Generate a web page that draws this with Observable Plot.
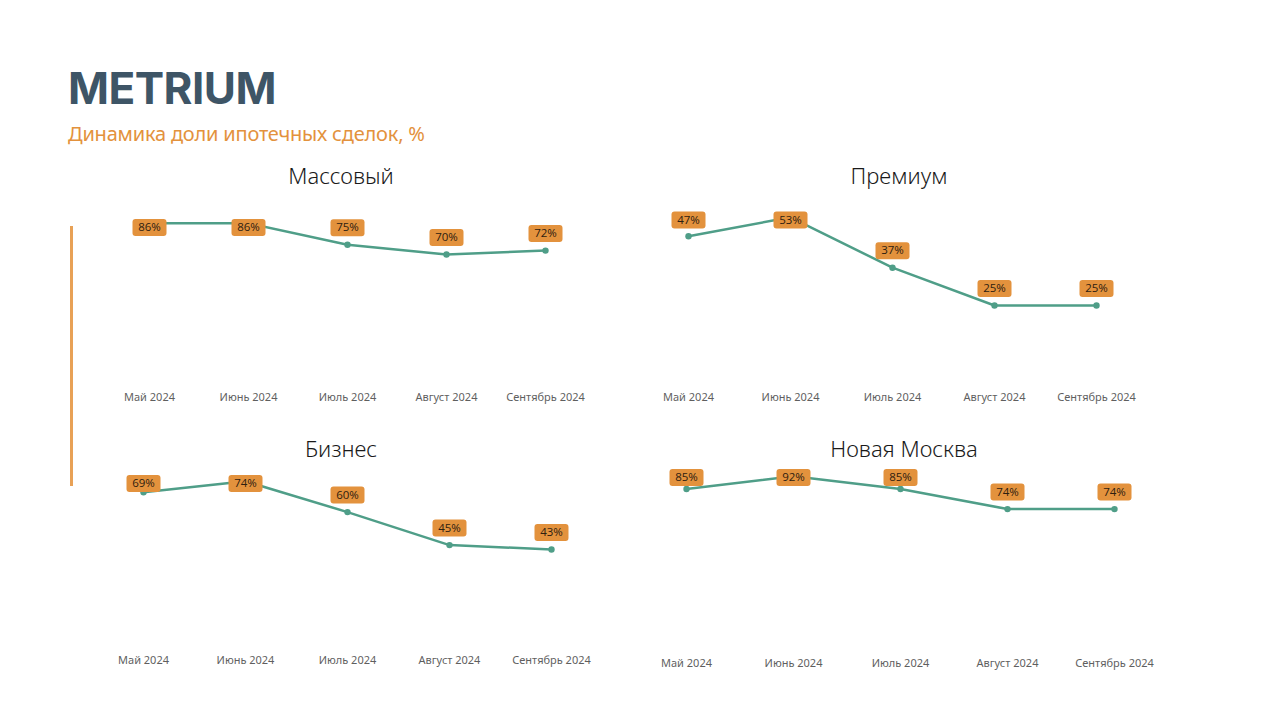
<!DOCTYPE html>
<html>
<head>
<meta charset="utf-8">
<script src="https://cdn.jsdelivr.net/npm/d3@7"></script>
<script src="https://cdn.jsdelivr.net/npm/@observablehq/plot@0.6"></script>
<style>
  html, body { margin: 0; padding: 0; background: #ffffff; }
  #page { position: relative; width: 1269px; height: 712px; overflow: hidden; background: #fff; font-family: "Noto Sans", "Open Sans", sans-serif; }
  .abs { position: absolute; }
  #brand { left: 68px; top: 60px; font-family: Inter, "Noto Sans", sans-serif; font-weight: 700; font-size: 44px; color: #3E5566; letter-spacing: -0.5px; line-height: 56px; }
  #subtitle { left: 68px; top: 120px; font-family: "Noto Sans", sans-serif; font-weight: 400; font-size: 20px; color: #E3923D; line-height: 28px; letter-spacing: -0.2px; }
  #bar { left: 70px; top: 226px; width: 3px; height: 260px; background: #E8A156; }
  .ptitle { font-family: "Noto Sans", "Open Sans", sans-serif; font-weight: 300; font-size: 22px; color: #1a1a1a; transform: translateX(-50%); white-space: nowrap; line-height: 30px; }
</style>
</head>
<body>
<div id="page">
  <div id="brand" class="abs">METRIUM</div>
  <div id="subtitle" class="abs">Динамика доли ипотечных сделок, %</div>
  <div id="bar" class="abs"></div>
</div>
<script>
// ---- data ----
const months = ["Май 2024", "Июнь 2024", "Июль 2024", "Август 2024", "Сентябрь 2024"];
const segments = ["Массовый", "Премиум", "Бизнес", "Новая Москва"];
const massovy = [86, 86, 75, 70, 72];
const premium = [47, 53, 37, 25, 25];
const business = [69, 74, 60, 45, 43];
const newMoscow = [85, 92, 85, 74, 74];
const seriesValues = [massovy, premium, business, newMoscow];

// ---- layout (positions / sizes only) ----
const layout = [
  { left: 98.5, top: 190, width: 495, plotTop: 195.5, plotBottom: 390.5, ymax: 100, labelPx: 17, capPx: 227, axisPad: 2.5, titleX: 341, titleY: 160 },
  { left: 634.5, top: 190, width: 514, plotTop: 194.75, plotBottom: 383.75, ymax: 60, labelPx: 17, capPx: 219.5, axisPad: 8.5, titleX: 899, titleY: 160 },
  { left: 91, top: 460, width: 511, plotTop: 467.6, plotBottom: 643.6, ymax: 80, labelPx: 17, capPx: 483, axisPad: 12.5, titleX: 341, titleY: 433 },
  { left: 631.5, top: 455, width: 535, plotTop: 461, plotBottom: 644, ymax: 100, labelPx: 17, capPx: 477, axisPad: 14.5, titleX: 904, titleY: 433 }
];

const lineColor = "#4F9E88";
const boxColor = "#E3923D";

// rounded rectangle symbol for data-label boxes
const labelBox = {
  draw(ctx) {
    const w = 34, h = 17, r = 3;
    const x0 = -w / 2, y0 = -h / 2, x1 = w / 2, y1 = h / 2;
    ctx.moveTo(x0 + r, y0);
    ctx.lineTo(x1 - r, y0);
    ctx.arcTo(x1, y0, x1, y0 + r, r);
    ctx.lineTo(x1, y1 - r);
    ctx.arcTo(x1, y1, x1 - r, y1, r);
    ctx.lineTo(x0 + r, y1);
    ctx.arcTo(x0, y1, x0, y1 - r, r);
    ctx.lineTo(x0, y0 + r);
    ctx.arcTo(x0, y0, x0 + r, y0, r);
    ctx.closePath();
  }
};

const page = document.getElementById("page");

segments.forEach((name, i) => {
  const L = layout[i];
  const vals = seriesValues[i];
  const data = months.map((m, j) => ({ month: m, value: vals[j] }));
  const pxPerUnit = (L.plotBottom - L.plotTop) / L.ymax;
  const offUnits = L.labelPx / pxPerUnit;
  const capUnits = (L.plotBottom - L.capPx) / pxPerUnit;
  const labelY = d => Math.min(d.value + offUnits, capUnits);
  const marginTop = L.plotTop - L.top;
  const marginBottom = 26;
  const height = (L.plotBottom - L.top) + marginBottom;

  const chart = Plot.plot({
    width: L.width,
    height: height,
    marginLeft: 0,
    marginRight: 0,
    marginTop: marginTop,
    marginBottom: marginBottom,
    style: { background: "transparent", overflow: "visible" },
    x: { type: "point", domain: months, padding: 0.5, label: null },
    y: { domain: [0, L.ymax], axis: null },
    marks: [
      Plot.axisX({ tickSize: 0, tickPadding: L.axisPad, fontSize: 11, fill: "#5f5f5f", label: null, fontFamily: "'Noto Sans', sans-serif" }),
      Plot.line(data, { x: "month", y: "value", stroke: lineColor, strokeWidth: 2.5 }),
      Plot.dot(data, { x: "month", y: "value", r: 3.2, fill: lineColor, stroke: "none" }),
      Plot.dot(data, { x: "month", y: labelY, symbol: labelBox, fill: boxColor, stroke: "none" }),
      Plot.text(data, { x: "month", y: labelY, text: d => d.value + "%", fontSize: 11.5, fill: "#2e2010", fontFamily: "'Open Sans', 'Noto Sans', sans-serif" })
    ]
  });
  chart.style.position = "absolute";
  chart.style.left = L.left + "px";
  chart.style.top = L.top + "px";
  page.appendChild(chart);

  const t = document.createElement("div");
  t.className = "abs ptitle";
  t.style.left = L.titleX + "px";
  t.style.top = L.titleY + "px";
  t.textContent = name;
  page.appendChild(t);
});
</script>
</body>
</html>
